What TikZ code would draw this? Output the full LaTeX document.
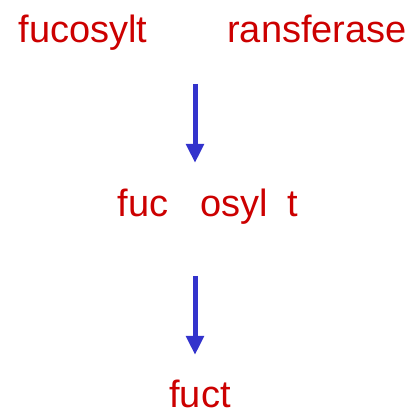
\documentclass[tikz,border=0pt]{standalone}
\usepackage{fontspec}
\setmainfont{Liberation Sans}
\usetikzlibrary{arrows.meta}
\definecolor{wordred}{RGB}{204,0,0}
\definecolor{arrowblue}{RGB}{51,51,204}
\tikzset{
  word/.style={text=wordred, font=\fontsize{38}{40}\selectfont, inner sep=0pt, anchor=base},
  flow/.style={draw=arrowblue, line width=5pt, -{Triangle[width=17pt,length=19pt]}}
}
\begin{document}
\begin{tikzpicture}[x=1pt,y=1pt]
\useasboundingbox (0,0) rectangle (415,415);
\node[word] (w1) at (83,372) {fucosylt};
\node[word] (w2) at (317,372) {ransferase};
\node[word] (w3) at (143,198) {fuc};
\node[word] (w4) at (234,198) {osyl};
\node[word] (w5) at (293,198) {t};
\node[word] (w6) at (200,8) {fuct};
\coordinate (a1s) at (195,331);
\coordinate (a1e) at (195,252);
\coordinate (a2s) at (195,139);
\coordinate (a2e) at (195,60);
\draw[flow] (a1s) -- (a1e);
\draw[flow] (a2s) -- (a2e);
\end{tikzpicture}
\end{document}
